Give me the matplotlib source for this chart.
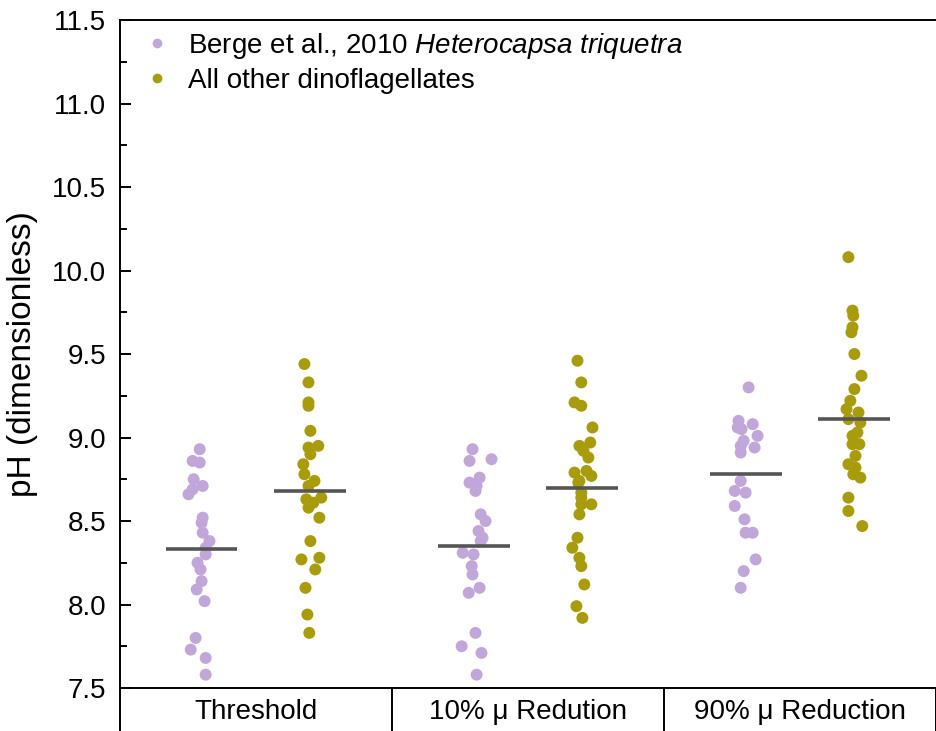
import matplotlib
matplotlib.use("Agg")
import matplotlib.pyplot as plt
from matplotlib.lines import Line2D
import numpy as np

plt.rcParams['font.family'] = ['Liberation Sans', 'DejaVu Sans']
plt.rcParams['mathtext.fontset'] = 'custom'
plt.rcParams['mathtext.rm'] = 'Liberation Sans'
plt.rcParams['mathtext.it'] = 'Liberation Sans:italic'

# data
categories = ['Threshold', '10% \u03bc Redution', '90% \u03bc Reduction']

thr_berge = [8.93, 8.86, 8.85, 8.75, 8.71, 8.69, 8.66, 8.52, 8.49, 8.43, 8.38,
             8.34, 8.30, 8.25, 8.21, 8.14, 8.09, 8.02, 7.80, 7.73, 7.68, 7.58]
thr_other = [9.44, 9.33, 9.21, 9.19, 9.04, 8.94, 8.95, 8.90, 8.84, 8.78, 8.74, 8.71,
             8.63, 8.64, 8.61, 8.58, 8.52, 8.38, 8.27, 8.28, 8.21, 8.10, 7.94, 7.83]
r10_berge = [8.93, 8.86, 8.87, 8.76, 8.73, 8.71, 8.68, 8.54, 8.50, 8.44, 8.40,
             8.38, 8.31, 8.30, 8.23, 8.18, 8.10, 8.07, 7.83, 7.75, 7.71, 7.58]
r10_other = [9.46, 9.33, 9.21, 9.19, 9.06, 8.97, 8.95, 8.92, 8.88, 8.79, 8.80, 8.77, 8.74,
             8.73, 8.67, 8.64, 8.60, 8.60, 8.54, 8.40, 8.34, 8.28, 8.23, 8.12, 7.99, 7.92]
r90_berge = [9.30, 9.10, 9.08, 9.06, 9.05, 9.01, 8.98, 8.94, 8.95, 8.91,
             8.74, 8.68, 8.67, 8.59, 8.51, 8.43, 8.43, 8.27, 8.20, 8.10]
r90_other = [10.08, 9.76, 9.73, 9.66, 9.63, 9.50, 9.37, 9.29, 9.22, 9.17, 9.15, 9.11, 9.09,
             9.03, 9.01, 8.96, 8.96, 8.89, 8.84, 8.82, 8.78, 8.76, 8.64, 8.56, 8.47]

# horizontal spread of each point (category units)
thr_berge_dx = [-0.007, -0.033, -0.007, -0.029, 0.004, -0.033, -0.048, 0.004, 0.0, 0.004, 0.029,
                0.015, 0.015, -0.015, -0.004, 0.0, -0.018, 0.011, -0.022, -0.04, 0.015, 0.015]
thr_other_dx = [-0.022, -0.007, -0.007, -0.007, 0.0, -0.007, 0.029, 0.0, -0.026, -0.022, 0.015, -0.007,
                -0.015, 0.04, 0.011, -0.007, 0.033, 0.0, -0.033, 0.033, 0.018, -0.018, -0.011, -0.004]
r10_berge_dx = [-0.004, -0.015, 0.066, 0.022, -0.015, 0.011, 0.007, 0.026, 0.044, 0.018, 0.033,
                0.026, -0.04, 0.0, -0.007, -0.004, 0.022, -0.018, 0.007, -0.044, 0.029, 0.011]
r10_other_dx = [-0.018, -0.004, -0.029, -0.004, 0.037, 0.029, -0.011, 0.004, 0.022, -0.029, 0.015, 0.033, -0.011,
                -0.015, -0.004, -0.004, 0.033, -0.004, -0.011, -0.018, -0.037, -0.011, -0.004, 0.007, -0.022, 0.0]
r90_berge_dx = [0.011, -0.026, 0.026, -0.029, -0.015, 0.044, -0.007, 0.033, -0.018, -0.018,
                -0.018, -0.04, 0.0, -0.04, -0.004, 0.0, 0.026, 0.037, -0.007, -0.018]
r90_other_dx = [-0.022, -0.007, -0.004, -0.007, -0.011, 0.0, 0.026, 0.0, -0.015, -0.029, 0.015, -0.022, 0.022,
                0.011, -0.007, -0.007, 0.018, 0.004, -0.022, 0.004, -0.004, 0.022, -0.022, -0.022, 0.029]

berge_median = [8.33, 8.35, 8.78]
other_median = [8.68, 8.70, 9.11]

berge_sets = [thr_berge, r10_berge, r90_berge]
other_sets = [thr_other, r10_other, r90_other]
berge_dx = [thr_berge_dx, r10_berge_dx, r90_berge_dx]
other_dx = [thr_other_dx, r10_other_dx, r90_other_dx]

purple = '#c1a6da'
olive = '#a89b0c'
shift = 0.2

fig = plt.figure(figsize=(9.36, 7.31), dpi=100)
ax = fig.add_axes([0.1282, 0.0588, 0.8718, 0.9138])

for i in range(3):
    xb = i - shift + np.array(berge_dx[i])
    xo = i + shift + np.array(other_dx[i])
    ax.scatter(xb, berge_sets[i], s=74, color=purple, edgecolors='none', zorder=3)
    ax.scatter(xo, other_sets[i], s=74, color=olive, edgecolors='none', zorder=3)
    ax.hlines(berge_median[i], i - shift - 0.132, i - shift + 0.132, color='#555555', lw=2.6, zorder=4)
    ax.hlines(other_median[i], i + shift - 0.132, i + shift + 0.132, color='#555555', lw=2.6, zorder=4)

ax.set_xlim(-0.5, 2.5)
ax.set_ylim(7.5, 11.5)
ax.set_yticks(np.arange(7.5, 11.51, 0.5))
ax.set_yticks(np.arange(7.5, 11.51, 0.25), minor=True)
ax.set_yticklabels(['%.1f' % v for v in np.arange(7.5, 11.51, 0.5)])
ax.tick_params(axis='y', which='major', direction='in', length=8, width=1.4, labelsize=20, pad=10)
ax.tick_params(axis='y', which='minor', direction='in', length=5, width=1.4)
ax.set_xticks([])
ax.spines['right'].set_visible(False)
for s in ['left', 'bottom', 'top']:
    ax.spines[s].set_linewidth(1.4)
ax.set_ylabel('pH (dimensionless)', fontsize=24, labelpad=10)

# category table under the axis
tr = ax.get_xaxis_transform()
for xv in [-0.5, 0.5, 1.5, 2.5]:
    ax.plot([xv, xv], [0, -0.08], transform=tr, color='black', lw=1.4, clip_on=False)
for i, c in enumerate(categories):
    ax.text(i, -0.036, c, transform=tr, ha='center', va='center', fontsize=20)

handles = [Line2D([], [], ls='none', marker='o', ms=7, color=purple, mec='none'),
           Line2D([], [], ls='none', marker='o', ms=7, color=olive, mec='none')]
labels = [r'Berge et al., 2010 $\it{Heterocapsa\ triquetra}$', 'All other dinoflagellates']
ax.legend(handles, labels, loc='upper left', frameon=False, fontsize=20,
          handlelength=1.0, handletextpad=0.6, labelspacing=0.25,
          borderaxespad=0.0, bbox_to_anchor=(0.015, 1.0))

fig.savefig('out.png', dpi=100)
